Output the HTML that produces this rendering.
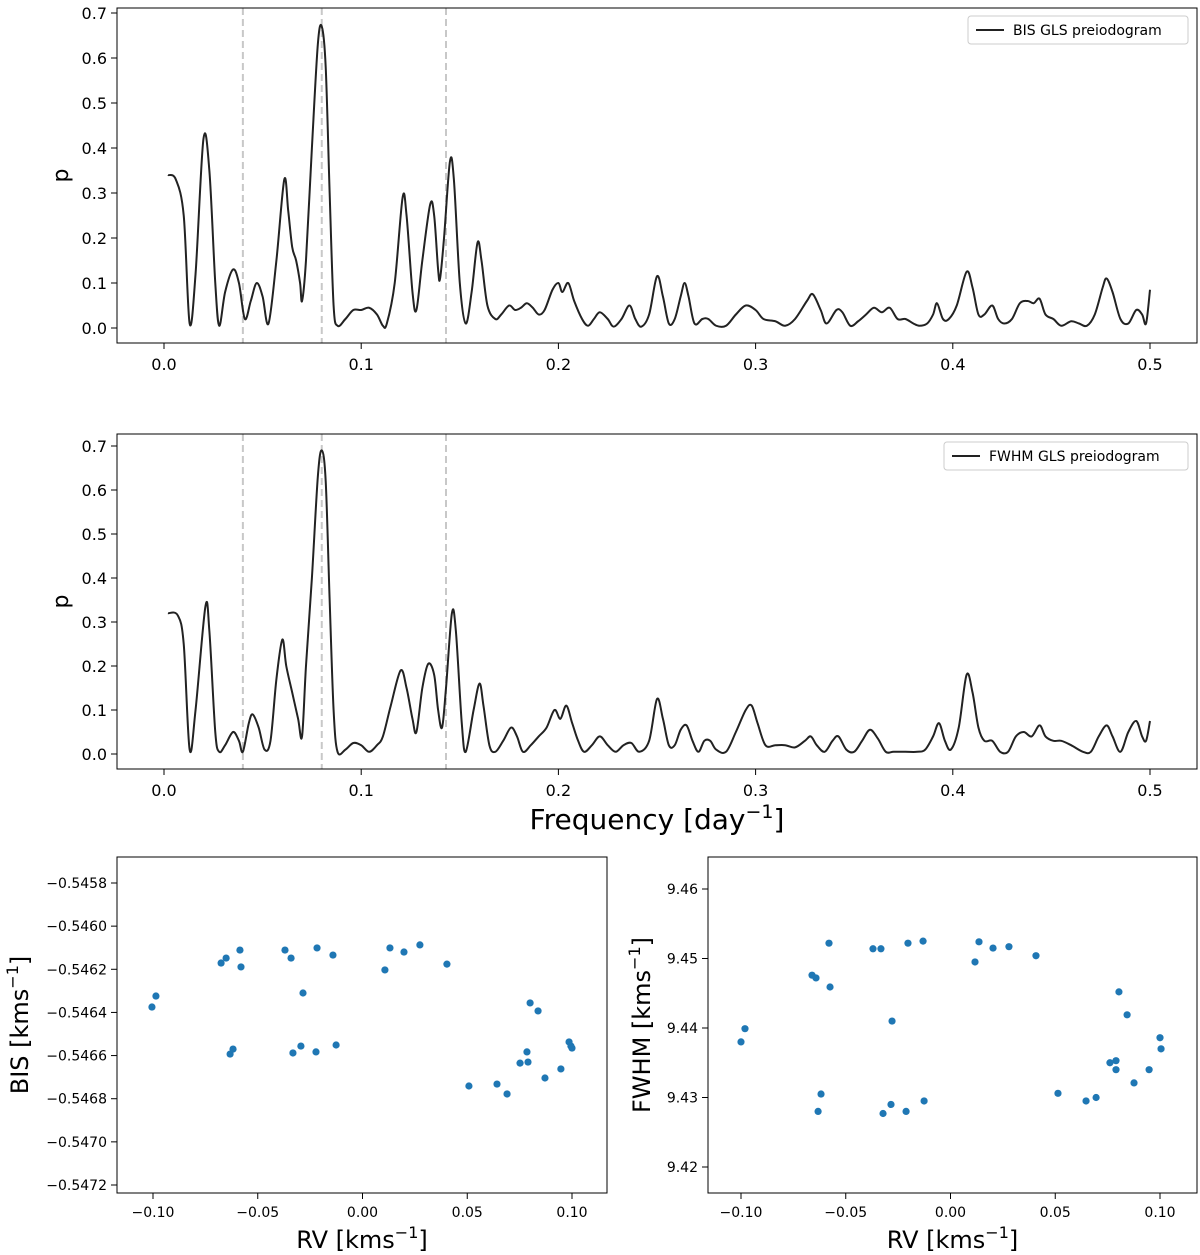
<!DOCTYPE html>
<html><head><meta charset="utf-8">
<style>
html,body{margin:0;padding:0;background:#fff;}
svg{display:block;font-family:"DejaVu Sans","Liberation Sans",sans-serif;}
</style></head>
<body>
<svg id="fig" width="1200" height="1255" viewBox="0 0 1200 1255" xmlns="http://www.w3.org/2000/svg"></svg>
<script>
// ---- Periodogram data (frequency knots, power) ----
const bisFreq=[0.002,0.006,0.010,0.013,0.016,0.020,0.023,0.026,0.028,0.031,0.035,0.038,0.041,0.044,0.047,0.050,0.053,0.057,0.061,0.063,0.065,0.067,0.069,0.070,0.072,0.075,0.078,0.080,0.082,0.084,0.086,0.088,0.092,0.096,0.100,0.104,0.108,0.111,0.113,0.117,0.121,0.123,0.126,0.128,0.131,0.135,0.137,0.139,0.140,0.142,0.145,0.147,0.150,0.153,0.156,0.159,0.161,0.164,0.168,0.171,0.175,0.178,0.181,0.184,0.187,0.190,0.193,0.197,0.200,0.202,0.205,0.208,0.212,0.215,0.218,0.221,0.225,0.228,0.232,0.236,0.239,0.242,0.246,0.250,0.253,0.256,0.259,0.262,0.264,0.266,0.269,0.273,0.276,0.280,0.285,0.290,0.295,0.300,0.304,0.310,0.315,0.320,0.326,0.329,0.333,0.336,0.341,0.344,0.348,0.352,0.356,0.360,0.364,0.368,0.372,0.376,0.380,0.383,0.387,0.390,0.392,0.395,0.398,0.402,0.407,0.410,0.413,0.416,0.420,0.423,0.426,0.430,0.434,0.438,0.441,0.444,0.447,0.451,0.455,0.460,0.464,0.468,0.472,0.476,0.478,0.481,0.485,0.489,0.493,0.496,0.498,0.500];
const bisPower=[0.34,0.33,0.25,0.01,0.12,0.42,0.35,0.10,0.005,0.08,0.13,0.10,0.02,0.06,0.10,0.07,0.01,0.15,0.33,0.26,0.18,0.15,0.10,0.06,0.15,0.40,0.63,0.67,0.58,0.30,0.05,0.005,0.02,0.04,0.04,0.045,0.03,0.005,0.01,0.10,0.29,0.25,0.08,0.04,0.15,0.275,0.25,0.13,0.11,0.20,0.37,0.33,0.10,0.01,0.08,0.19,0.15,0.05,0.02,0.03,0.05,0.04,0.045,0.055,0.045,0.03,0.04,0.085,0.10,0.08,0.10,0.06,0.02,0.005,0.02,0.035,0.02,0.003,0.02,0.05,0.02,0.003,0.03,0.115,0.07,0.01,0.02,0.07,0.10,0.07,0.01,0.02,0.02,0.005,0.005,0.03,0.05,0.04,0.02,0.015,0.005,0.02,0.06,0.075,0.04,0.01,0.04,0.035,0.005,0.015,0.03,0.045,0.035,0.045,0.02,0.02,0.01,0.005,0.01,0.03,0.055,0.02,0.02,0.05,0.125,0.09,0.03,0.03,0.05,0.02,0.01,0.02,0.055,0.06,0.055,0.065,0.03,0.02,0.005,0.015,0.01,0.005,0.03,0.09,0.11,0.08,0.02,0.01,0.04,0.03,0.01,0.085];
const fwhmFreq=[0.002,0.007,0.010,0.013,0.016,0.021,0.023,0.026,0.028,0.031,0.035,0.038,0.040,0.043,0.045,0.048,0.051,0.054,0.057,0.060,0.062,0.065,0.068,0.070,0.072,0.075,0.078,0.080,0.082,0.084,0.086,0.088,0.092,0.096,0.100,0.104,0.108,0.111,0.115,0.120,0.123,0.126,0.128,0.131,0.134,0.137,0.139,0.141,0.143,0.146,0.148,0.151,0.153,0.157,0.160,0.162,0.165,0.168,0.172,0.176,0.179,0.182,0.186,0.190,0.194,0.198,0.201,0.204,0.207,0.210,0.213,0.217,0.221,0.225,0.229,0.233,0.237,0.241,0.246,0.250,0.253,0.256,0.259,0.262,0.265,0.268,0.271,0.274,0.277,0.280,0.285,0.290,0.295,0.298,0.301,0.305,0.310,0.315,0.320,0.325,0.328,0.331,0.335,0.339,0.342,0.346,0.350,0.354,0.358,0.362,0.366,0.370,0.376,0.382,0.386,0.390,0.393,0.396,0.399,0.403,0.407,0.410,0.413,0.416,0.420,0.424,0.428,0.432,0.436,0.440,0.444,0.447,0.451,0.455,0.460,0.466,0.470,0.474,0.478,0.481,0.485,0.489,0.493,0.496,0.498,0.500];
const fwhmPower=[0.32,0.315,0.25,0.01,0.10,0.335,0.28,0.05,0.005,0.02,0.05,0.03,0.005,0.07,0.09,0.06,0.01,0.03,0.17,0.26,0.20,0.14,0.08,0.04,0.20,0.40,0.63,0.69,0.62,0.35,0.10,0.005,0.01,0.025,0.02,0.005,0.02,0.04,0.11,0.19,0.15,0.08,0.05,0.15,0.205,0.18,0.10,0.06,0.15,0.32,0.28,0.07,0.005,0.10,0.16,0.11,0.02,0.005,0.03,0.06,0.04,0.005,0.02,0.04,0.06,0.10,0.08,0.11,0.07,0.03,0.005,0.02,0.04,0.02,0.005,0.02,0.025,0.005,0.03,0.125,0.08,0.02,0.02,0.055,0.065,0.03,0.005,0.03,0.03,0.01,0.005,0.05,0.10,0.11,0.07,0.02,0.02,0.02,0.015,0.03,0.04,0.02,0.005,0.03,0.04,0.01,0.005,0.03,0.055,0.035,0.005,0.005,0.005,0.005,0.01,0.04,0.07,0.03,0.01,0.06,0.18,0.14,0.06,0.03,0.03,0.005,0.005,0.04,0.05,0.04,0.065,0.04,0.03,0.03,0.02,0.005,0.005,0.04,0.065,0.04,0.005,0.05,0.075,0.04,0.03,0.075];
const markerFreqs=[0.04,0.08,0.143];
const freqTicks=[0.0,0.1,0.2,0.3,0.4,0.5];
const pTicks=[0.0,0.1,0.2,0.3,0.4,0.5,0.6,0.7];
// ---- Scatter data ----
const rvBis=[-0.1005,-0.0986,-0.0675,-0.0651,-0.0585,-0.058,-0.0632,-0.0618,-0.037,-0.0341,-0.0284,-0.0332,-0.0294,-0.0217,-0.0222,-0.0141,-0.0126,0.0107,0.0131,0.0198,0.0274,0.0403,0.0508,0.0642,0.069,0.0752,0.0785,0.079,0.080,0.0838,0.0871,0.0947,0.0986,0.0995,0.100];
const bisVals=[-0.546375,-0.546324,-0.546171,-0.546148,-0.546111,-0.546189,-0.546593,-0.546570,-0.546111,-0.546148,-0.546310,-0.546588,-0.546556,-0.546101,-0.546583,-0.546134,-0.546551,-0.546203,-0.546101,-0.546120,-0.546087,-0.546176,-0.546741,-0.546732,-0.546778,-0.546635,-0.546583,-0.546630,-0.546356,-0.546393,-0.546704,-0.546662,-0.546537,-0.546556,-0.546565];
const rvFwhm=[-0.1,-0.0981,-0.0661,-0.0642,-0.058,-0.0575,-0.0618,-0.0632,-0.037,-0.0332,-0.0279,-0.0322,-0.0284,-0.0212,-0.0203,-0.0131,-0.0126,0.0117,0.0136,0.0203,0.0279,0.0408,0.0513,0.0647,0.0695,0.0761,0.079,0.079,0.0804,0.0843,0.0876,0.0948,0.100,0.1005];
const fwhmVals=[9.4380,9.4399,9.4476,9.4472,9.4522,9.4459,9.4305,9.4280,9.4514,9.4514,9.4410,9.4277,9.4290,9.4280,9.4522,9.4525,9.4295,9.4495,9.4524,9.4515,9.4517,9.4504,9.4306,9.4295,9.4300,9.4350,9.4353,9.4340,9.4452,9.4419,9.4321,9.4340,9.4386,9.4370];
const rvTicks=[-0.10,-0.05,0.00,0.05,0.10];
const bisTicks=[-0.5458,-0.5460,-0.5462,-0.5464,-0.5466,-0.5468,-0.5470,-0.5472];
const fwhmTicks=[9.42,9.43,9.44,9.45,9.46];

const NS="http://www.w3.org/2000/svg";
const svg=document.getElementById('fig');
function mk(tag,attrs,parent){const e=document.createElementNS(NS,tag);for(const k in attrs)e.setAttribute(k,attrs[k]);(parent||svg).appendChild(e);return e;}
function lin(d0,d1,r0,r1){return v=>r0+(v-d0)*(r1-r0)/(d1-d0);}
function fmt(v,d){const s=Math.abs(v).toFixed(d);return (v<0?'\u2212':'')+s;}

function smoothPath(pts){
  let d='M'+pts[0][0]+','+pts[0][1];
  for(let i=0;i<pts.length-1;i++){
    const p0=pts[Math.max(0,i-1)],p1=pts[i],p2=pts[i+1],p3=pts[Math.min(pts.length-1,i+2)];
    const c1=[p1[0]+(p2[0]-p0[0])/6,p1[1]+(p2[1]-p0[1])/6];
    const c2=[p2[0]-(p3[0]-p1[0])/6,p2[1]-(p3[1]-p1[1])/6];
    d+=' C'+c1[0].toFixed(2)+','+c1[1].toFixed(2)+' '+c2[0].toFixed(2)+','+c2[1].toFixed(2)+' '+p2[0].toFixed(2)+','+p2[1].toFixed(2);
  }
  return d;
}

function periodogram(name,top,bottom,y0px,y07px,freqs,powers,legendText,legX,showXLabel){
  const g=mk('g',{});
  
  
  const x=lin(0,0.5,164,1150), y=lin(0,0.7,y0px,y07px);
  markerFreqs.forEach(f=>{
    const l=mk('line',{x1:x(f),x2:x(f),y1:top,y2:bottom,stroke:'#c8c8c8','stroke-width':2,'stroke-dasharray':'7,4'},g);
    
    
  });
  const pts=freqs.map((f,i)=>[x(f),y(powers[i])]);
  const p=mk('path',{d:smoothPath(pts),fill:'none',stroke:'#222','stroke-width':2},g);
  
  
  const fr=mk('rect',{x:117,y:top,width:1080,height:bottom-top,fill:'none',stroke:'#000','stroke-width':1},g);
  
  
  freqTicks.forEach(t=>{
    mk('line',{x1:x(t),x2:x(t),y1:bottom,y2:bottom+6,stroke:'#000'},g);
    const tx=mk('text',{x:x(t),y:bottom+27,'font-size':16,'text-anchor':'middle'},g);
    tx.textContent=t.toFixed(1);
    
    
  });
  pTicks.forEach(t=>{
    mk('line',{x1:111,x2:117,y1:y(t),y2:y(t),stroke:'#000'},g);
    const tx=mk('text',{x:107,y:y(t)+6,'font-size':16,'text-anchor':'end'},g);
    tx.textContent=t.toFixed(1);
    
    
  });
  const yl=mk('text',{x:0,y:0,'font-size':22,'text-anchor':'middle',transform:'translate(68,'+((top+bottom)/2)+') rotate(-90)'},g);
  yl.textContent='p';
  
  
  const lg=mk('g',{},g);
  
  
  mk('rect',{x:legX,y:top+8,width:1188-legX,height:28,fill:'#fff',stroke:'#ccc',rx:3},lg);
  mk('line',{x1:legX+8,x2:legX+36,y1:top+22,y2:top+22,stroke:'#222','stroke-width':2},lg);
  const lt=mk('text',{x:legX+45,y:top+27,'font-size':14},lg);
  lt.textContent=legendText;
  
  
  if(showXLabel){
    const xl=mk('text',{x:657,y:829,'font-size':28,'text-anchor':'middle'},g);
    xl.innerHTML='Frequency [day<tspan dy="-11" font-size="19">\u22121</tspan><tspan dy="11">]</tspan>';
    
    
  }
}
periodogram('bis-periodogram',8,343,328,13,bisFreq,bisPower,'BIS GLS preiodogram',968,false);
periodogram('fwhm-periodogram',434,769,754,446,fwhmFreq,fwhmPower,'FWHM GLS preiodogram',944,true);

function scatter(name,x0,x1,xs,ys,yTicks,yDec,yLo,yLoPx,yHi,yHiPx,xPxLo,xPxHi,yLabel,yLabelX){
  const g=mk('g',{});
  
  
  const x=lin(-0.1,0.1,xPxLo,xPxHi), y=lin(yLo,yHi,yLoPx,yHiPx);
  const top=857,bottom=1193;
  xs.forEach((v,i)=>{
    const c=mk('circle',{cx:x(v),cy:y(ys[i]),r:3.6,fill:'#1f77b4'},g);
    
    
  });
  const fr=mk('rect',{x:x0,y:top,width:x1-x0,height:bottom-top,fill:'none',stroke:'#000'},g);
  
  
  rvTicks.forEach(t=>{
    mk('line',{x1:x(t),x2:x(t),y1:bottom,y2:bottom+6,stroke:'#000'},g);
    const tx=mk('text',{x:x(t),y:bottom+24,'font-size':14,'text-anchor':'middle'},g);
    tx.textContent=fmt(t,2);
    
    
  });
  yTicks.forEach(t=>{
    mk('line',{x1:x0-6,x2:x0,y1:y(t),y2:y(t),stroke:'#000'},g);
    const tx=mk('text',{x:x0-10,y:y(t)+5,'font-size':14,'text-anchor':'end'},g);
    tx.textContent=fmt(t,yDec);
    
    
  });
  const xl=mk('text',{x:(x0+x1)/2,y:1248,'font-size':24,'text-anchor':'middle'},g);
  xl.innerHTML='RV [kms<tspan dy="-10" font-size="16">\u22121</tspan><tspan dy="10">]</tspan>';
  
  
  const yl=mk('text',{x:0,y:0,'font-size':24,'text-anchor':'middle',transform:'translate('+yLabelX+','+((top+bottom)/2)+') rotate(-90)'},g);
  yl.innerHTML=yLabel+' [kms<tspan dy="-10" font-size="16">\u22121</tspan><tspan dy="10">]</tspan>';
  
  
}
scatter('bis-vs-rv',117,607,rvBis,bisVals,bisTicks,4,-0.5458,883,-0.5472,1185,153,572,'BIS',28);
scatter('fwhm-vs-rv',708,1197,rvFwhm,fwhmVals,fwhmTicks,2,9.46,889,9.42,1167,741,1160,'FWHM',650);
</script>
</body></html>
